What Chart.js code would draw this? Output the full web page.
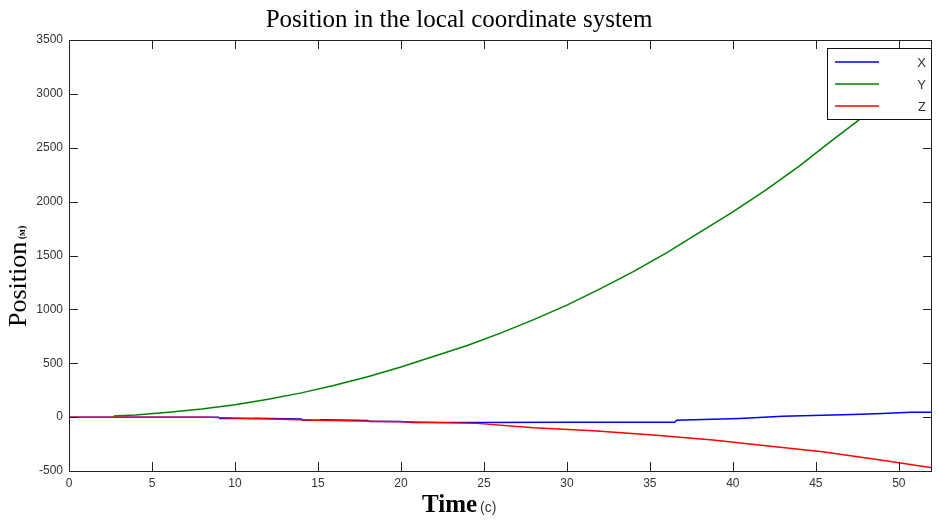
<!DOCTYPE html>
<html lang="en">
<head>
    <meta charset="UTF-8">
    <title>Position in the local coordinate system</title>
    <script src="https://cdn.jsdelivr.net/npm/chart.js"></script>
    <style>
        body {
            margin: 0;
            background-color: #fff;
        }
        canvas {
            display: block;
        }
    </style>
</head>
<body>
    <canvas id="posChart" width="938" height="528"></canvas>
    <script>
        // time (s) and position (m), one pair of arrays per component
        const tX = [0, 9, 9.1, 11.1, 11.2, 14, 14.1, 15.1, 15.2, 18, 18.1, 20, 20.7, 24.6, 30, 36.5, 36.6, 40.4, 43, 47.2, 49, 50.7, 52];
        const posX = [0, 0, -12, -12, -10, -18, -28, -28, -25, -32, -40, -40, -50, -50, -48, -47, -30, -12, 8, 24, 34, 45, 46];

        const tY = [2.7, 4, 6, 8, 10, 12, 14, 16, 18, 20, 22, 24, 26, 28, 30, 32, 34, 36, 38, 40, 42, 44, 46, 48, 50, 52];
        const posY = [10, 20, 45, 75, 115, 165, 225, 295, 375, 465, 565, 665, 780, 905, 1040, 1190, 1350, 1525, 1715, 1905, 2110, 2330, 2570, 2805, 3050, 3310];

        const tZ = [0, 8, 11, 15, 20, 24.6, 28, 31.6, 35.2, 38.8, 42, 45.4, 48.9, 52];
        const posZ = [0, 0, -13, -28, -43, -58, -99, -127, -167, -213, -266, -321, -398, -470];

        const seriesLabels = ['X', 'Y', 'Z'];
        const xTickValues = [0, 5, 10, 15, 20, 25, 30, 35, 40, 45, 50];

        const toPoints = (t, v) => t.map((x, i) => ({ x: x, y: v[i] }));

        const TICK = 9;

        // title, axis titles, boxed frame with inward ticks, legend inside the plot
        const decor = {
            id: 'decor',
            afterDraw(chart) {
                const ctx = chart.ctx;
                const a = chart.chartArea;
                const xs = chart.scales.x, ys = chart.scales.y;
                ctx.save();

                ctx.strokeStyle = '#222';
                ctx.lineWidth = 1;
                ctx.strokeRect(a.left + 0.5, a.top + 0.5, a.right - a.left - 1, a.bottom - a.top);

                ctx.beginPath();
                xs.ticks.forEach(t => {
                    const px = Math.round(xs.getPixelForValue(t.value)) + 0.5;
                    ctx.moveTo(px, a.bottom); ctx.lineTo(px, a.bottom - TICK);
                    ctx.moveTo(px, a.top); ctx.lineTo(px, a.top + TICK);
                });
                ys.ticks.forEach(t => {
                    const py = Math.round(ys.getPixelForValue(t.value)) + 0.5;
                    ctx.moveTo(a.left, py); ctx.lineTo(a.left + TICK, py);
                    ctx.moveTo(a.right, py); ctx.lineTo(a.right - TICK, py);
                });
                ctx.stroke();

                // chart title
                ctx.fillStyle = '#000';
                ctx.textAlign = 'center';
                ctx.textBaseline = 'alphabetic';
                ctx.font = '25px "Liberation Serif"';
                ctx.fillText('Position in the local coordinate system', 459, 27);

                // x axis title
                ctx.textAlign = 'left';
                ctx.font = 'bold 25px "Liberation Serif"';
                ctx.fillText('Time', 422, 512);
                const tw = ctx.measureText('Time').width;
                ctx.fillStyle = '#333';
                ctx.font = '14px "Liberation Sans"';
                ctx.fillText(' (c)', 422 + tw - 1, 512);

                // y axis title
                ctx.save();
                ctx.translate(26, 327);
                ctx.rotate(-Math.PI / 2);
                ctx.fillStyle = '#000';
                ctx.font = '26px "Liberation Serif"';
                ctx.fillText('Position', 0, 0);
                const pw = ctx.measureText('Position').width;
                ctx.font = 'bold 10px "Liberation Serif"';
                ctx.fillText(' (м)', pw, -1);
                ctx.restore();

                // legend
                const lx = 827, ly = 48, lw = 105, lh = 72;
                ctx.fillStyle = '#fff';
                ctx.fillRect(lx, ly, lw, lh);
                ctx.strokeStyle = '#111';
                ctx.strokeRect(lx + 0.5, ly + 0.5, lw - 1, lh - 1);
                ctx.font = '13px "Liberation Sans"';
                ctx.textBaseline = 'middle';
                chart.data.datasets.forEach((ds, i) => {
                    const ry = ly + 14 + i * 22;
                    ctx.strokeStyle = ds.borderColor;
                    ctx.lineWidth = 1.5;
                    ctx.beginPath();
                    ctx.moveTo(835, ry); ctx.lineTo(879, ry);
                    ctx.stroke();
                    ctx.fillStyle = '#333';
                    ctx.textAlign = 'right';
                    ctx.fillText(ds.label, 926, ry + 1);
                });
                ctx.restore();
            }
        };

        const ctx = document.getElementById('posChart').getContext('2d');
        new Chart(ctx, {
            type: 'line',
            data: {
                datasets: [{
                    label: seriesLabels[0],
                    data: toPoints(tX, posX),
                    borderColor: '#0000ff',
                    borderWidth: 1.5,
                    order: 2
                }, {
                    label: seriesLabels[1],
                    data: toPoints(tY, posY),
                    borderColor: '#008000',
                    borderWidth: 1.5,
                    order: 1
                }, {
                    label: seriesLabels[2],
                    data: toPoints(tZ, posZ),
                    borderColor: '#ff0000',
                    borderWidth: 1.5,
                    order: 0
                }]
            },
            options: {
                responsive: false,
                animation: false,
                events: [],
                elements: {
                    point: { radius: 0 },
                    line: { tension: 0, fill: false }
                },
                layout: {
                    padding: { top: 40, right: 6, left: 0, bottom: 0 }
                },
                scales: {
                    x: {
                        type: 'linear',
                        min: 0,
                        max: 52,
                        afterBuildTicks: s => {
                            s.ticks = xTickValues.map(v => ({ value: v }));
                        },
                        afterFit: s => { s.height = 57; },
                        grid: { display: false, drawTicks: false },
                        border: { display: false },
                        ticks: {
                            padding: 5,
                            color: '#333',
                            font: { family: 'Liberation Sans', size: 12 },
                            callback: v => String(v)
                        }
                    },
                    y: {
                        min: -500,
                        max: 3500,
                        afterFit: s => { s.width = 69; },
                        grid: { display: false, drawTicks: false },
                        border: { display: false },
                        ticks: {
                            stepSize: 500,
                            padding: 6,
                            color: '#333',
                            font: { family: 'Liberation Sans', size: 12 },
                            callback: v => String(v)
                        }
                    }
                },
                plugins: {
                    legend: { display: false },
                    tooltip: { enabled: false }
                }
            },
            plugins: [decor]
        });
    </script>
</body>
</html>
